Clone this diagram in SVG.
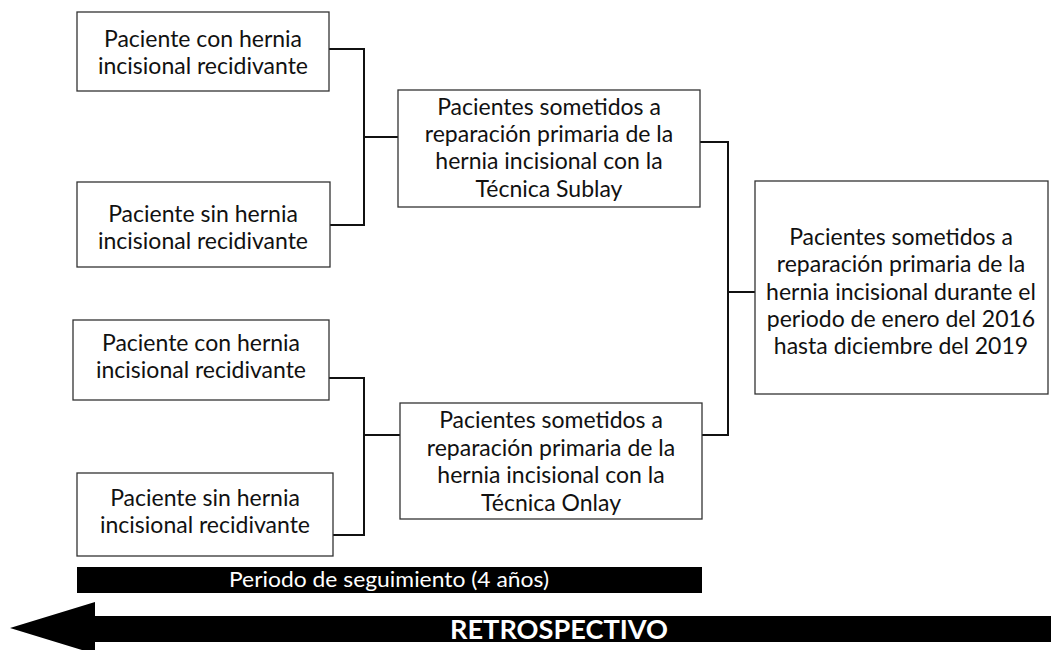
<svg xmlns="http://www.w3.org/2000/svg" width="1051" height="650" viewBox="0 0 1051 650">
<style>
.box{fill:#fff;stroke:#333;stroke-width:1.3}
.t{font-family:Lato,"Open Sans",sans-serif;font-size:23px;fill:#111;text-anchor:middle}
.c{fill:none;stroke:#111;stroke-width:2}
.w{font-family:Lato,"Liberation Sans",sans-serif;fill:#fff;text-anchor:middle}
</style>
<rect width="1051" height="650" fill="#fff"/>
<g id="connectors">
<polyline class="c" points="329,49 364,49 364,225 330,225"/>
<line class="c" x1="364" y1="137" x2="398" y2="137"/>
<polyline class="c" points="329,378 364,378 364,535 333,535"/>
<line class="c" x1="364" y1="435" x2="400" y2="435"/>
<polyline class="c" points="700,142 728,142 728,435 702,435"/>
<line class="c" x1="728" y1="292" x2="755" y2="292"/>
</g>
<g id="n1"><rect class="box" x="77" y="12" width="252" height="79"/>
<text class="t" x="203" y="47">Paciente con hernia</text><text class="t" x="203" y="74">incisional recidivante</text></g>
<g id="n2"><rect class="box" x="77" y="182" width="253" height="85"/>
<text class="t" x="203" y="222">Paciente sin hernia</text><text class="t" x="203" y="249">incisional recidivante</text></g>
<g id="n3"><rect class="box" x="398" y="90" width="302" height="117"/>
<text class="t" x="549" y="115">Pacientes sometidos a</text><text class="t" x="549" y="142">reparación primaria de la</text><text class="t" x="549" y="169">hernia incisional con la</text><text class="t" x="549" y="197">Técnica Sublay</text></g>
<g id="n4"><rect class="box" x="755" y="181" width="293" height="213"/>
<text class="t" x="901" y="245">Pacientes sometidos a</text><text class="t" x="901" y="272">reparación primaria de la</text><text class="t" x="901" y="300">hernia incisional durante el</text><text class="t" x="901" y="327">periodo de enero del 2016</text><text class="t" x="901" y="354">hasta diciembre del 2019</text></g>
<g id="n5"><rect class="box" x="73" y="320" width="256" height="80"/>
<text class="t" x="201" y="351">Paciente con hernia</text><text class="t" x="201" y="378">incisional recidivante</text></g>
<g id="n6"><rect class="box" x="77" y="473" width="256" height="83"/>
<text class="t" x="205" y="506">Paciente sin hernia</text><text class="t" x="205" y="533">incisional recidivante</text></g>
<g id="n7"><rect class="box" x="400" y="403" width="302" height="116"/>
<text class="t" x="551" y="428">Pacientes sometidos a</text><text class="t" x="551" y="456">reparación primaria de la</text><text class="t" x="551" y="483">hernia incisional con la</text><text class="t" x="551" y="511">Técnica Onlay</text></g>
<g id="timeline">
<rect x="77" y="567" width="625" height="26" fill="#000"/>
<text class="w" x="389" y="587" font-size="21" textLength="320" lengthAdjust="spacingAndGlyphs">Periodo de seguimiento (4 años)</text>
<polygon points="10,628 95,602 95,616 1051,616 1051,642 95,642 95,654" fill="#000"/>
<text class="w" x="559" y="639" font-size="27" font-weight="bold" textLength="218" lengthAdjust="spacingAndGlyphs">RETROSPECTIVO</text>
</g>
</svg>
